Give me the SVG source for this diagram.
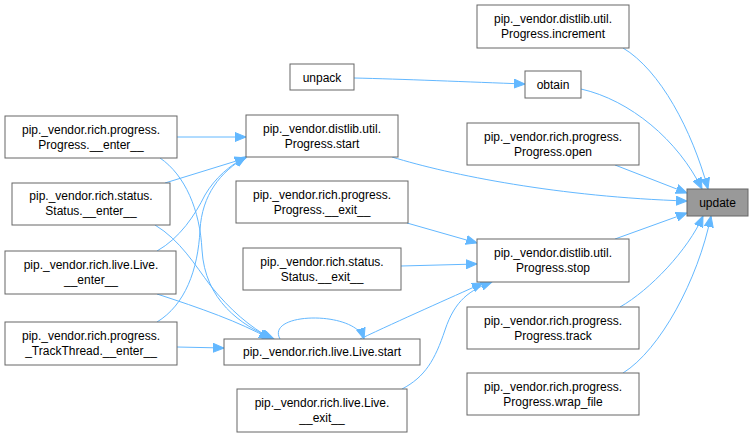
<svg xmlns="http://www.w3.org/2000/svg" width="753" height="437" viewBox="0 0 753 437">
<style>
.n rect{fill:#ffffff;stroke:#666666;stroke-width:1}
.n.hl rect{fill:#999999}
.n text{font-family:"Liberation Sans",Arial,sans-serif;font-size:12px;fill:#000000;text-anchor:middle}
.e path{fill:none;stroke:#63b8ff;stroke-width:1;marker-end:url(#arr)}
</style>
<defs>
<marker id="arr" markerUnits="userSpaceOnUse" markerWidth="12" markerHeight="10" viewBox="0 0 12 10" refX="11" refY="5" orient="auto">
<path d="M0,0.5 L11,5 L0,9.5 Z" fill="#63b8ff" stroke="#63b8ff" stroke-width="1"/>
</marker>
</defs>
<rect width="753" height="437" fill="#ffffff"/>
<g id="edges" class="e">
<path d="M623,48 C660,70 692,130 708,189"/>
<path d="M581,89 C630,100 678,140 702,189"/>
<path d="M615,165 L687,193"/>
<path d="M392,157 C450,175 560,197 687,201"/>
<path d="M615,239 L687,213"/>
<path d="M620,307 C650,290 688,250 703,216"/>
<path d="M623,373 C660,350 698,280 711,216"/>
<path d="M354,78 C400,79 470,82 525,84"/>
<path d="M177,137 L246,137"/>
<path d="M165,183 L246,158"/>
<path d="M157,251 C180,238 195,215 205,195 C215,178 230,165 246,157"/>
<path d="M157,322 C185,305 198,270 200,230 C202,195 220,172 246,157"/>
<path d="M160,158 C185,175 200,210 202,250 C205,300 240,325 274,339"/>
<path d="M155,225 C180,240 195,265 210,285 C230,310 250,327 272,339"/>
<path d="M157,294 C200,308 240,322 270,339"/>
<path d="M177,347 L224,348"/>
<path d="M280,339 C265,312 355,310 364,339"/>
<path d="M360,339 C400,320 450,298 483,283"/>
<path d="M402,389 C425,377 435,360 445,330 C455,300 470,290 492,282"/>
<path d="M407,223 L477,243"/>
<path d="M401,266 L477,264"/>
</g>
<g id="update" class="n hl"><rect x="687" y="189" width="61" height="27"/><text x="717.5" y="207">update</text></g>
<g id="increment" class="n"><rect x="477" y="5" width="152" height="43"/><text x="553" y="23">pip._vendor.distlib.util.</text><text x="553" y="38">Progress.increment</text></g>
<g id="obtain" class="n"><rect x="525" y="71" width="56" height="27"/><text x="553" y="89">obtain</text></g>
<g id="open" class="n"><rect x="467" y="123" width="172" height="42"/><text x="553" y="140.5">pip._vendor.rich.progress.</text><text x="553" y="155.5">Progress.open</text></g>
<g id="unpack" class="n"><rect x="290" y="64" width="64" height="26"/><text x="322" y="81.5">unpack</text></g>
<g id="dstart" class="n"><rect x="246" y="115" width="152" height="42"/><text x="322" y="132.5">pip._vendor.distlib.util.</text><text x="322" y="147.5">Progress.start</text></g>
<g id="penter" class="n"><rect x="5" y="116" width="172" height="42"/><text x="91" y="133.5">pip._vendor.rich.progress.</text><text x="91" y="148.5">Progress.__enter__</text></g>
<g id="senter" class="n"><rect x="12" y="183" width="158" height="42"/><text x="91" y="200">pip._vendor.rich.status.</text><text x="91" y="215">Status.__enter__</text></g>
<g id="pexit" class="n"><rect x="236" y="181" width="172" height="42"/><text x="322" y="198.5">pip._vendor.rich.progress.</text><text x="322" y="213.5">Progress.__exit__</text></g>
<g id="lenter" class="n"><rect x="5" y="251" width="171" height="43"/><text x="91" y="268.5">pip._vendor.rich.live.Live.</text><text x="91" y="283.5">__enter__</text></g>
<g id="sexit" class="n"><rect x="243" y="248" width="158" height="42"/><text x="322" y="265.5">pip._vendor.rich.status.</text><text x="322" y="280.5">Status.__exit__</text></g>
<g id="dstop" class="n"><rect x="477" y="239" width="152" height="43"/><text x="553" y="256.5">pip._vendor.distlib.util.</text><text x="553" y="271.5">Progress.stop</text></g>
<g id="tenter" class="n"><rect x="5" y="322" width="172" height="43"/><text x="91" y="339.5">pip._vendor.rich.progress.</text><text x="91" y="354.5">_TrackThread.__enter__</text></g>
<g id="lstart" class="n"><rect x="224" y="339" width="196" height="26"/><text x="322" y="356">pip._vendor.rich.live.Live.start</text></g>
<g id="lexit" class="n"><rect x="237" y="389" width="170" height="43"/><text x="322" y="406.5">pip._vendor.rich.live.Live.</text><text x="322" y="421.5">__exit__</text></g>
<g id="track" class="n"><rect x="467" y="307" width="172" height="42"/><text x="553" y="324.5">pip._vendor.rich.progress.</text><text x="553" y="339.5">Progress.track</text></g>
<g id="wrap" class="n"><rect x="467" y="373" width="172" height="42"/><text x="553" y="390.5">pip._vendor.rich.progress.</text><text x="553" y="405.5">Progress.wrap_file</text></g>
</svg>
